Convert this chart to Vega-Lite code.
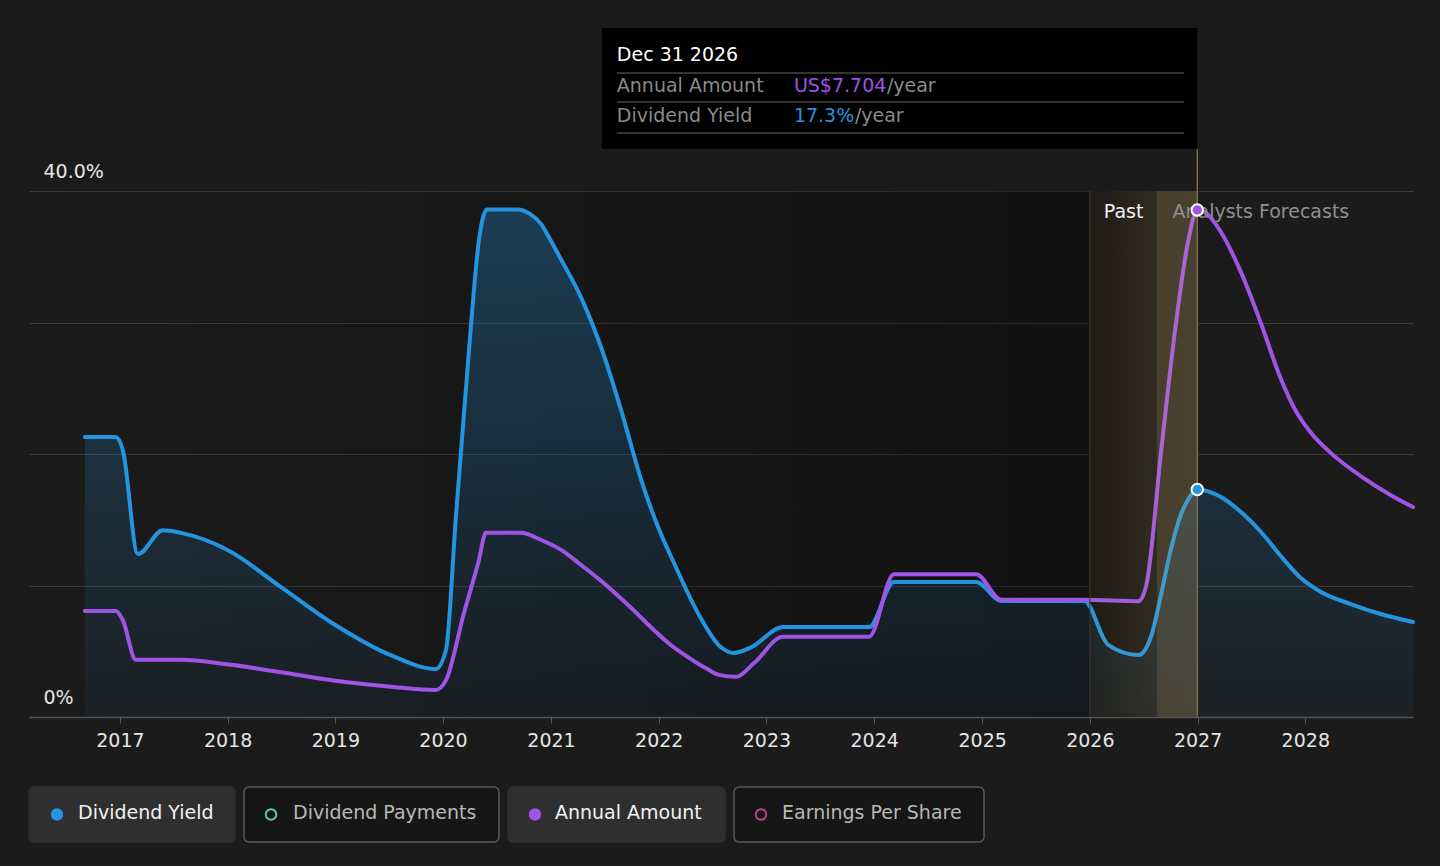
{
  "$schema": "https://vega.github.io/schema/vega-lite/v6.json",
  "background": "#1b1b1b",
  "padding": {"left": 28, "top": 28, "right": 28, "bottom": 24},
  "autosize": {"type": "pad"},
  "spacing": 70,
  "bounds": "flush",
  "datasets": {
    "yield": [
      {"date": "2016-09-04", "value": 21.3},
      {"date": "2016-12-18", "value": 21.3},
      {"date": "2017-01-11", "value": 20.3},
      {"date": "2017-03-03", "value": 12.4},
      {"date": "2017-05-27", "value": 14.2},
      {"date": "2017-07-27", "value": 14.0},
      {"date": "2018-01-01", "value": 12.7},
      {"date": "2018-06-30", "value": 9.9},
      {"date": "2019-01-01", "value": 7.0},
      {"date": "2019-07-08", "value": 4.7},
      {"date": "2019-12-07", "value": 3.65},
      {"date": "2020-01-11", "value": 5.1},
      {"date": "2020-02-13", "value": 15.0},
      {"date": "2020-03-29", "value": 27.9},
      {"date": "2020-05-02", "value": 36.3},
      {"date": "2020-05-29", "value": 38.6},
      {"date": "2020-09-11", "value": 38.6},
      {"date": "2020-10-19", "value": 38.3},
      {"date": "2020-11-28", "value": 37.5},
      {"date": "2021-01-01", "value": 36.2},
      {"date": "2021-02-04", "value": 34.8},
      {"date": "2021-04-13", "value": 31.9},
      {"date": "2021-06-20", "value": 28.1},
      {"date": "2021-08-27", "value": 23.3},
      {"date": "2021-11-03", "value": 18.0},
      {"date": "2021-12-27", "value": 14.6},
      {"date": "2022-02-22", "value": 11.7},
      {"date": "2022-05-14", "value": 7.9},
      {"date": "2022-07-31", "value": 5.3},
      {"date": "2022-09-13", "value": 4.87},
      {"date": "2022-11-10", "value": 5.3},
      {"date": "2023-02-26", "value": 6.84},
      {"date": "2023-12-15", "value": 6.84},
      {"date": "2024-03-08", "value": 10.27},
      {"date": "2024-12-12", "value": 10.27},
      {"date": "2025-03-07", "value": 8.82},
      {"date": "2025-12-13", "value": 8.82},
      {"date": "2026-03-04", "value": 5.48},
      {"date": "2026-06-14", "value": 4.71},
      {"date": "2026-07-28", "value": 6.16},
      {"date": "2026-08-30", "value": 9.28},
      {"date": "2026-10-02", "value": 12.7},
      {"date": "2026-11-05", "value": 15.36},
      {"date": "2026-11-29", "value": 16.5},
      {"date": "2026-12-31", "value": 17.3},
      {"date": "2027-03-21", "value": 16.73},
      {"date": "2027-05-28", "value": 15.59},
      {"date": "2027-08-04", "value": 14.07},
      {"date": "2027-10-10", "value": 12.24},
      {"date": "2027-12-17", "value": 10.57},
      {"date": "2028-02-23", "value": 9.51},
      {"date": "2028-06-03", "value": 8.59},
      {"date": "2028-09-13", "value": 7.83},
      {"date": "2028-12-31", "value": 7.22}
    ],
    "amount": [
      {"date": "2016-09-04", "value": 1.61},
      {"date": "2016-12-18", "value": 1.61},
      {"date": "2017-01-11", "value": 1.47},
      {"date": "2017-02-24", "value": 0.87},
      {"date": "2017-07-27", "value": 0.87},
      {"date": "2018-01-01", "value": 0.8},
      {"date": "2018-06-30", "value": 0.68},
      {"date": "2019-01-01", "value": 0.55},
      {"date": "2019-07-08", "value": 0.46},
      {"date": "2019-12-07", "value": 0.41},
      {"date": "2020-01-11", "value": 0.56},
      {"date": "2020-03-12", "value": 1.58},
      {"date": "2020-05-02", "value": 2.39},
      {"date": "2020-05-25", "value": 2.8},
      {"date": "2020-09-21", "value": 2.8},
      {"date": "2020-11-28", "value": 2.69},
      {"date": "2021-02-04", "value": 2.54},
      {"date": "2021-04-13", "value": 2.31},
      {"date": "2021-07-13", "value": 1.98},
      {"date": "2021-09-29", "value": 1.66},
      {"date": "2021-12-16", "value": 1.32},
      {"date": "2022-02-12", "value": 1.09},
      {"date": "2022-04-10", "value": 0.91},
      {"date": "2022-06-10", "value": 0.74},
      {"date": "2022-07-24", "value": 0.64},
      {"date": "2022-09-20", "value": 0.61},
      {"date": "2022-11-20", "value": 0.82},
      {"date": "2023-02-26", "value": 1.22},
      {"date": "2023-12-15", "value": 1.22},
      {"date": "2024-03-08", "value": 2.17},
      {"date": "2024-12-12", "value": 2.17},
      {"date": "2025-03-07", "value": 1.78},
      {"date": "2025-12-13", "value": 1.78},
      {"date": "2026-06-14", "value": 1.76},
      {"date": "2026-07-11", "value": 2.0},
      {"date": "2026-08-31", "value": 4.06},
      {"date": "2026-10-21", "value": 6.03},
      {"date": "2026-12-01", "value": 7.25},
      {"date": "2026-12-31", "value": 7.704},
      {"date": "2027-01-29", "value": 7.66},
      {"date": "2027-03-21", "value": 7.37},
      {"date": "2027-05-28", "value": 6.76},
      {"date": "2027-08-04", "value": 5.98},
      {"date": "2027-10-10", "value": 5.14},
      {"date": "2027-11-30", "value": 4.65},
      {"date": "2028-01-20", "value": 4.32},
      {"date": "2028-03-28", "value": 4.01},
      {"date": "2028-07-07", "value": 3.66},
      {"date": "2028-10-17", "value": 3.37},
      {"date": "2028-12-31", "value": 3.19}
    ],
    "hover": [{"date": "2026-12-31", "label": "Dec 31 2026", "amount": 7.704, "yield": 17.3}],
    "period": [{"start": "2026-01-01", "end": "2026-12-31"}],
    "legend": [
      {"series": "Dividend Yield", "shown": true},
      {"series": "Dividend Payments", "shown": false},
      {"series": "Annual Amount", "shown": true},
      {"series": "Earnings Per Share", "shown": false}
    ]
  },
  "vconcat": [
    {
      "width": 1384,
      "height": 689,
      "layer": [
        {
          "layer": [
            {
              "data": {"name": "hover"},
              "mark": {"type": "rect", "fill": {"gradient": "linear", "x1": 0, "y1": 0, "x2": 1, "y2": 0, "stops": [{"offset": 0, "color": "rgba(0,0,0,0)"}, {"offset": 1, "color": "rgba(0,0,0,0.35)"}]}},
              "encoding": {
                "x": {"datum": {"year": 2016, "month": 2, "date": 28, "utc": true}, "type": "temporal", "title": null},
                "x2": {"datum": {"year": 2026, "month": 1, "date": 1, "utc": true}},
                "y": {"datum": 0, "type": "quantitative", "title": null},
                "y2": {"datum": 40}
              }
            },
            {
              "data": {"name": "period"},
              "mark": {"type": "rect", "fill": {"gradient": "linear", "x1": 0, "y1": 0, "x2": 1, "y2": 0, "stops": [{"offset": 0, "color": "#14120f"}, {"offset": 0.62, "color": "#1b1914"}, {"offset": 0.625, "color": "#28231b"}, {"offset": 1, "color": "#2a251c"}]}},
              "encoding": {
                "x": {"field": "start", "type": "temporal", "title": null},
                "x2": {"field": "end"},
                "y": {"datum": 0, "type": "quantitative", "title": null},
                "y2": {"datum": 40}
              }
            },
            {
              "data": {"name": "yield"},
              "mark": {"type": "area", "interpolate": "monotone", "fill": {"gradient": "linear", "x1": 0, "y1": 0, "x2": 0, "y2": 1, "stops": [{"offset": 0, "color": "rgba(35,148,223,0.3)"}, {"offset": 1, "color": "rgba(35,148,223,0.05)"}]}},
              "encoding": {
                "x": {
                  "field": "date", "type": "temporal", "title": null,
                  "scale": {"type": "utc", "domain": [{"year": 2016, "month": 2, "date": 28, "utc": true}, {"year": 2028, "month": 12, "date": 31, "utc": true}], "nice": false},
                  "axis": {"format": "%Y", "tickCount": {"interval": "year", "step": 1}}
                },
                "y": {
                  "field": "value", "type": "quantitative", "title": null,
                  "scale": {"domain": [0, 52.4], "nice": false, "zero": false},
                  "axis": {"values": [0, 10, 20, 30, 40], "labelExpr": "datum.value == 40 ? '40.0%' : datum.value == 0 ? '0%' : ''"}
                }
              }
            },
            {
              "data": {"name": "yield"},
              "mark": {"type": "line", "interpolate": "monotone", "stroke": "#2394df", "strokeWidth": 4, "strokeCap": "round", "strokeJoin": "round"},
              "encoding": {
                "x": {"field": "date", "type": "temporal", "title": null},
                "y": {"field": "value", "type": "quantitative", "title": null}
              }
            }
          ]
        },
        {
          "layer": [
            {
              "data": {"name": "amount"},
              "mark": {"type": "line", "interpolate": "monotone", "stroke": "#a153e6", "strokeWidth": 4, "strokeCap": "round", "strokeJoin": "round"},
              "encoding": {
                "x": {"field": "date", "type": "temporal", "title": null},
                "y": {"field": "value", "type": "quantitative", "title": null, "scale": {"domain": [0, 10.47], "nice": false, "zero": false}, "axis": null}
              }
            }
          ]
        },
        {
          "layer": [
            {
              "data": {"name": "period"},
              "mark": {"type": "rect", "fill": {"gradient": "linear", "x1": 0, "y1": 0, "x2": 1, "y2": 0, "stops": [{"offset": 0, "color": "rgba(200,175,120,0.06)"}, {"offset": 0.62, "color": "rgba(200,175,120,0.12)"}, {"offset": 0.625, "color": "rgba(200,175,120,0.2)"}, {"offset": 1, "color": "rgba(200,175,120,0.2)"}]}},
              "encoding": {
                "x": {"field": "start", "type": "temporal", "title": null},
                "x2": {"field": "end"},
                "y": {"datum": 0, "type": "quantitative", "title": null, "scale": {"domain": [0, 52.4], "nice": false, "zero": false}, "axis": null},
                "y2": {"datum": 40}
              }
            },
            {
              "data": {"name": "period"},
              "mark": {"type": "rule", "stroke": "#40382a", "strokeWidth": 1},
              "encoding": {
                "x": {"field": "start", "type": "temporal", "title": null},
                "y": {"datum": 0, "type": "quantitative", "title": null, "axis": null},
                "y2": {"datum": 40}
              }
            },
            {
              "data": {"name": "hover"},
              "mark": {"type": "rule", "stroke": "#7d6a48", "strokeWidth": 1.5},
              "encoding": {
                "x": {"field": "date", "type": "temporal", "title": null},
                "y": {"datum": 0, "type": "quantitative", "title": null, "axis": null},
                "y2": {"datum": 43.2}
              }
            },
            {
              "data": {"name": "period"},
              "mark": {"type": "text", "text": "Past", "align": "right", "baseline": "middle", "dx": -14, "fontSize": 19, "color": "#f2f2f2"},
              "encoding": {
                "x": {"datum": {"year": 2026, "month": 8, "date": 18, "utc": true}, "type": "temporal", "title": null},
                "y": {"datum": 38.41, "type": "quantitative", "title": null, "axis": null}
              }
            },
            {
              "data": {"name": "period"},
              "mark": {"type": "text", "text": "Analysts Forecasts", "align": "left", "baseline": "middle", "dx": 15, "fontSize": 19, "color": "#8e8e8e"},
              "encoding": {
                "x": {"datum": {"year": 2026, "month": 8, "date": 18, "utc": true}, "type": "temporal", "title": null},
                "y": {"datum": 38.41, "type": "quantitative", "title": null, "axis": null}
              }
            },
            {
              "data": {"name": "hover"},
              "mark": {"type": "point", "shape": "circle", "filled": true, "size": 130, "fill": "#2394df", "stroke": "#ffffff", "strokeWidth": 2, "opacity": 1},
              "encoding": {
                "x": {"field": "date", "type": "temporal", "title": null},
                "y": {"field": "yield", "type": "quantitative", "title": null, "axis": null}
              }
            },
            {
              "data": {"name": "hover"},
              "mark": {"type": "rect", "fill": "#000000"},
              "encoding": {
                "x": {"datum": {"year": 2021, "month": 6, "date": 23, "utc": true}, "type": "temporal", "title": null},
                "x2": {"datum": {"year": 2026, "month": 12, "date": 31, "utc": true}},
                "y": {"datum": 43.2, "type": "quantitative", "title": null, "axis": null},
                "y2": {"datum": 52.4}
              }
            },
            {
              "data": {"name": "hover"},
              "mark": {"type": "text", "align": "left", "baseline": "middle", "fontSize": 19, "color": "#ffffff"},
              "encoding": {
                "x": {"datum": {"year": 2021, "month": 8, "date": 12, "utc": true}, "type": "temporal", "title": null},
                "y": {"datum": 50.35, "type": "quantitative", "title": null, "axis": null},
                "text": {"field": "label"}
              }
            },
            {
              "data": {"name": "hover"},
              "mark": {"type": "rule", "stroke": "#454545", "strokeWidth": 1.5},
              "encoding": {
                "x": {"datum": {"year": 2021, "month": 8, "date": 12, "utc": true}, "type": "temporal", "title": null},
                "x2": {"datum": {"year": 2026, "month": 11, "date": 16, "utc": true}},
                "y": {"datum": 48.98, "type": "quantitative", "title": null, "axis": null}
              }
            },
            {
              "data": {"name": "hover"},
              "mark": {"type": "rule", "stroke": "#454545", "strokeWidth": 1.5},
              "encoding": {
                "x": {"datum": {"year": 2021, "month": 8, "date": 12, "utc": true}, "type": "temporal", "title": null},
                "x2": {"datum": {"year": 2026, "month": 11, "date": 16, "utc": true}},
                "y": {"datum": 46.77, "type": "quantitative", "title": null, "axis": null}
              }
            },
            {
              "data": {"name": "hover"},
              "mark": {"type": "rule", "stroke": "#454545", "strokeWidth": 1.5},
              "encoding": {
                "x": {"datum": {"year": 2021, "month": 8, "date": 12, "utc": true}, "type": "temporal", "title": null},
                "x2": {"datum": {"year": 2026, "month": 11, "date": 16, "utc": true}},
                "y": {"datum": 44.41, "type": "quantitative", "title": null, "axis": null}
              }
            },
            {
              "data": {"name": "hover"},
              "mark": {"type": "text", "text": "Annual Amount", "align": "left", "baseline": "middle", "fontSize": 19, "color": "#8a8a8a"},
              "encoding": {
                "x": {"datum": {"year": 2021, "month": 8, "date": 12, "utc": true}, "type": "temporal", "title": null},
                "y": {"datum": 47.99, "type": "quantitative", "title": null, "axis": null}
              }
            },
            {
              "data": {"name": "hover"},
              "mark": {"type": "text", "text": "US$7.704", "align": "left", "baseline": "middle", "fontSize": 19, "color": "#a153e6"},
              "encoding": {
                "x": {"datum": {"year": 2023, "month": 4, "date": 4, "utc": true}, "type": "temporal", "title": null},
                "y": {"datum": 47.99, "type": "quantitative", "title": null, "axis": null}
              }
            },
            {
              "data": {"name": "hover"},
              "mark": {"type": "text", "text": "/year", "align": "left", "baseline": "middle", "dx": 93, "fontSize": 19, "color": "#8a8a8a"},
              "encoding": {
                "x": {"datum": {"year": 2023, "month": 4, "date": 4, "utc": true}, "type": "temporal", "title": null},
                "y": {"datum": 47.99, "type": "quantitative", "title": null, "axis": null}
              }
            },
            {
              "data": {"name": "hover"},
              "mark": {"type": "text", "text": "Dividend Yield", "align": "left", "baseline": "middle", "fontSize": 19, "color": "#8a8a8a"},
              "encoding": {
                "x": {"datum": {"year": 2021, "month": 8, "date": 12, "utc": true}, "type": "temporal", "title": null},
                "y": {"datum": 45.71, "type": "quantitative", "title": null, "axis": null}
              }
            },
            {
              "data": {"name": "hover"},
              "mark": {"type": "text", "text": "17.3%", "align": "left", "baseline": "middle", "fontSize": 19, "color": "#2394df"},
              "encoding": {
                "x": {"datum": {"year": 2023, "month": 4, "date": 4, "utc": true}, "type": "temporal", "title": null},
                "y": {"datum": 45.71, "type": "quantitative", "title": null, "axis": null}
              }
            },
            {
              "data": {"name": "hover"},
              "mark": {"type": "text", "text": "/year", "align": "left", "baseline": "middle", "dx": 61, "fontSize": 19, "color": "#8a8a8a"},
              "encoding": {
                "x": {"datum": {"year": 2023, "month": 4, "date": 4, "utc": true}, "type": "temporal", "title": null},
                "y": {"datum": 45.71, "type": "quantitative", "title": null, "axis": null}
              }
            }
          ]
        },
        {
          "layer": [
            {
              "data": {"name": "hover"},
              "mark": {"type": "point", "shape": "circle", "filled": true, "size": 130, "fill": "#a153e6", "stroke": "#ffffff", "strokeWidth": 2, "opacity": 1},
              "encoding": {
                "x": {"field": "date", "type": "temporal", "title": null},
                "y": {"field": "amount", "type": "quantitative", "title": null, "scale": {"domain": [0, 10.47], "nice": false, "zero": false}, "axis": null}
              }
            }
          ]
        }
      ],
      "resolve": {"scale": {"y": "independent"}}
    },
    {
      "spacing": 9,
      "bounds": "flush",
      "hconcat": [
        {
          "width": 206,
          "height": 55,
          "data": {"name": "legend"},
          "transform": [{"filter": "datum.series == 'Dividend Yield'"}],
          "layer": [
            {
              "mark": {"type": "rect", "cornerRadius": 5, "strokeWidth": 1.5},
              "encoding": {
                "x": {"field": "series", "type": "nominal", "axis": null, "scale": {"type": "band", "paddingInner": 0, "paddingOuter": 0}},
                "fill": {"condition": {"test": "datum.shown", "value": "#2f2f2f"}, "value": "#161616"},
                "stroke": {"condition": {"test": "datum.shown", "value": "#2f2f2f"}, "value": "#595959"}
              }
            },
            {
              "mark": {"type": "point", "shape": "circle", "size": 110, "strokeWidth": 2, "xOffset": 28, "opacity": 1},
              "encoding": {
                "x": {"field": "series", "type": "nominal", "axis": null, "bandPosition": 0, "scale": {"type": "band", "paddingInner": 0, "paddingOuter": 0}},
                "stroke": {"field": "series", "type": "nominal", "legend": null, "scale": {"domain": ["Dividend Yield", "Dividend Payments", "Annual Amount", "Earnings Per Share"], "range": ["#2394df", "#5cc7b2", "#a153e6", "#b04a7e"]}},
                "fill": {"condition": {"test": "datum.shown", "field": "series", "type": "nominal", "legend": null, "scale": {"domain": ["Dividend Yield", "Dividend Payments", "Annual Amount", "Earnings Per Share"], "range": ["#2394df", "#5cc7b2", "#a153e6", "#b04a7e"]}}, "value": "transparent"}
              }
            },
            {
              "mark": {"type": "text", "align": "left", "baseline": "middle", "dx": 49, "dy": -2, "fontSize": 19},
              "encoding": {
                "x": {"field": "series", "type": "nominal", "axis": null, "bandPosition": 0, "scale": {"type": "band", "paddingInner": 0, "paddingOuter": 0}},
                "text": {"field": "series"},
                "color": {"condition": {"test": "datum.shown", "value": "#f2f2f2"}, "value": "#b8b8b8"}
              }
            }
          ]
        },
        {
          "width": 255,
          "height": 55,
          "data": {"name": "legend"},
          "transform": [{"filter": "datum.series == 'Dividend Payments'"}],
          "layer": [
            {
              "mark": {"type": "rect", "cornerRadius": 5, "strokeWidth": 1.5},
              "encoding": {
                "x": {"field": "series", "type": "nominal", "axis": null, "scale": {"type": "band", "paddingInner": 0, "paddingOuter": 0}},
                "fill": {"condition": {"test": "datum.shown", "value": "#2f2f2f"}, "value": "#161616"},
                "stroke": {"condition": {"test": "datum.shown", "value": "#2f2f2f"}, "value": "#595959"}
              }
            },
            {
              "mark": {"type": "point", "shape": "circle", "size": 110, "strokeWidth": 2, "xOffset": 27, "opacity": 1},
              "encoding": {
                "x": {"field": "series", "type": "nominal", "axis": null, "bandPosition": 0, "scale": {"type": "band", "paddingInner": 0, "paddingOuter": 0}},
                "stroke": {"field": "series", "type": "nominal", "legend": null, "scale": {"domain": ["Dividend Yield", "Dividend Payments", "Annual Amount", "Earnings Per Share"], "range": ["#2394df", "#5cc7b2", "#a153e6", "#b04a7e"]}},
                "fill": {"condition": {"test": "datum.shown", "field": "series", "type": "nominal", "legend": null, "scale": {"domain": ["Dividend Yield", "Dividend Payments", "Annual Amount", "Earnings Per Share"], "range": ["#2394df", "#5cc7b2", "#a153e6", "#b04a7e"]}}, "value": "transparent"}
              }
            },
            {
              "mark": {"type": "text", "align": "left", "baseline": "middle", "dx": 49, "dy": -2, "fontSize": 19},
              "encoding": {
                "x": {"field": "series", "type": "nominal", "axis": null, "bandPosition": 0, "scale": {"type": "band", "paddingInner": 0, "paddingOuter": 0}},
                "text": {"field": "series"},
                "color": {"condition": {"test": "datum.shown", "value": "#f2f2f2"}, "value": "#b8b8b8"}
              }
            }
          ]
        },
        {
          "width": 217,
          "height": 55,
          "data": {"name": "legend"},
          "transform": [{"filter": "datum.series == 'Annual Amount'"}],
          "layer": [
            {
              "mark": {"type": "rect", "cornerRadius": 5, "strokeWidth": 1.5},
              "encoding": {
                "x": {"field": "series", "type": "nominal", "axis": null, "scale": {"type": "band", "paddingInner": 0, "paddingOuter": 0}},
                "fill": {"condition": {"test": "datum.shown", "value": "#2f2f2f"}, "value": "#161616"},
                "stroke": {"condition": {"test": "datum.shown", "value": "#2f2f2f"}, "value": "#595959"}
              }
            },
            {
              "mark": {"type": "point", "shape": "circle", "size": 110, "strokeWidth": 2, "xOffset": 27, "opacity": 1},
              "encoding": {
                "x": {"field": "series", "type": "nominal", "axis": null, "bandPosition": 0, "scale": {"type": "band", "paddingInner": 0, "paddingOuter": 0}},
                "stroke": {"field": "series", "type": "nominal", "legend": null, "scale": {"domain": ["Dividend Yield", "Dividend Payments", "Annual Amount", "Earnings Per Share"], "range": ["#2394df", "#5cc7b2", "#a153e6", "#b04a7e"]}},
                "fill": {"condition": {"test": "datum.shown", "field": "series", "type": "nominal", "legend": null, "scale": {"domain": ["Dividend Yield", "Dividend Payments", "Annual Amount", "Earnings Per Share"], "range": ["#2394df", "#5cc7b2", "#a153e6", "#b04a7e"]}}, "value": "transparent"}
              }
            },
            {
              "mark": {"type": "text", "align": "left", "baseline": "middle", "dx": 47, "dy": -2, "fontSize": 19},
              "encoding": {
                "x": {"field": "series", "type": "nominal", "axis": null, "bandPosition": 0, "scale": {"type": "band", "paddingInner": 0, "paddingOuter": 0}},
                "text": {"field": "series"},
                "color": {"condition": {"test": "datum.shown", "value": "#f2f2f2"}, "value": "#b8b8b8"}
              }
            }
          ]
        },
        {
          "width": 250,
          "height": 55,
          "data": {"name": "legend"},
          "transform": [{"filter": "datum.series == 'Earnings Per Share'"}],
          "layer": [
            {
              "mark": {"type": "rect", "cornerRadius": 5, "strokeWidth": 1.5},
              "encoding": {
                "x": {"field": "series", "type": "nominal", "axis": null, "scale": {"type": "band", "paddingInner": 0, "paddingOuter": 0}},
                "fill": {"condition": {"test": "datum.shown", "value": "#2f2f2f"}, "value": "#161616"},
                "stroke": {"condition": {"test": "datum.shown", "value": "#2f2f2f"}, "value": "#595959"}
              }
            },
            {
              "mark": {"type": "point", "shape": "circle", "size": 110, "strokeWidth": 2, "xOffset": 27, "opacity": 1},
              "encoding": {
                "x": {"field": "series", "type": "nominal", "axis": null, "bandPosition": 0, "scale": {"type": "band", "paddingInner": 0, "paddingOuter": 0}},
                "stroke": {"field": "series", "type": "nominal", "legend": null, "scale": {"domain": ["Dividend Yield", "Dividend Payments", "Annual Amount", "Earnings Per Share"], "range": ["#2394df", "#5cc7b2", "#a153e6", "#b04a7e"]}},
                "fill": {"condition": {"test": "datum.shown", "field": "series", "type": "nominal", "legend": null, "scale": {"domain": ["Dividend Yield", "Dividend Payments", "Annual Amount", "Earnings Per Share"], "range": ["#2394df", "#5cc7b2", "#a153e6", "#b04a7e"]}}, "value": "transparent"}
              }
            },
            {
              "mark": {"type": "text", "align": "left", "baseline": "middle", "dx": 48, "dy": -2, "fontSize": 19},
              "encoding": {
                "x": {"field": "series", "type": "nominal", "axis": null, "bandPosition": 0, "scale": {"type": "band", "paddingInner": 0, "paddingOuter": 0}},
                "text": {"field": "series"},
                "color": {"condition": {"test": "datum.shown", "value": "#f2f2f2"}, "value": "#b8b8b8"}
              }
            }
          ]
        }
      ]
    }
  ],
  "config": {
    "view": {"stroke": null},
    "font": "DejaVu Sans",
    "axisX": {
      "domainColor": "#555555", "domainWidth": 1.5, "tickColor": "#555555", "tickSize": 6,
      "labelColor": "#e6e6e6", "labelFontSize": 19, "labelPadding": 8, "grid": false
    },
    "axisY": {
      "grid": true, "gridColor": "#3a3a3a", "gridWidth": 1, "domain": false, "ticks": false,
      "labelAlign": "left", "labelBaseline": "alphabetic", "labelPadding": -14, "labelOffset": -14,
      "labelColor": "#e6e6e6", "labelFontSize": 19
    }
  }
}
